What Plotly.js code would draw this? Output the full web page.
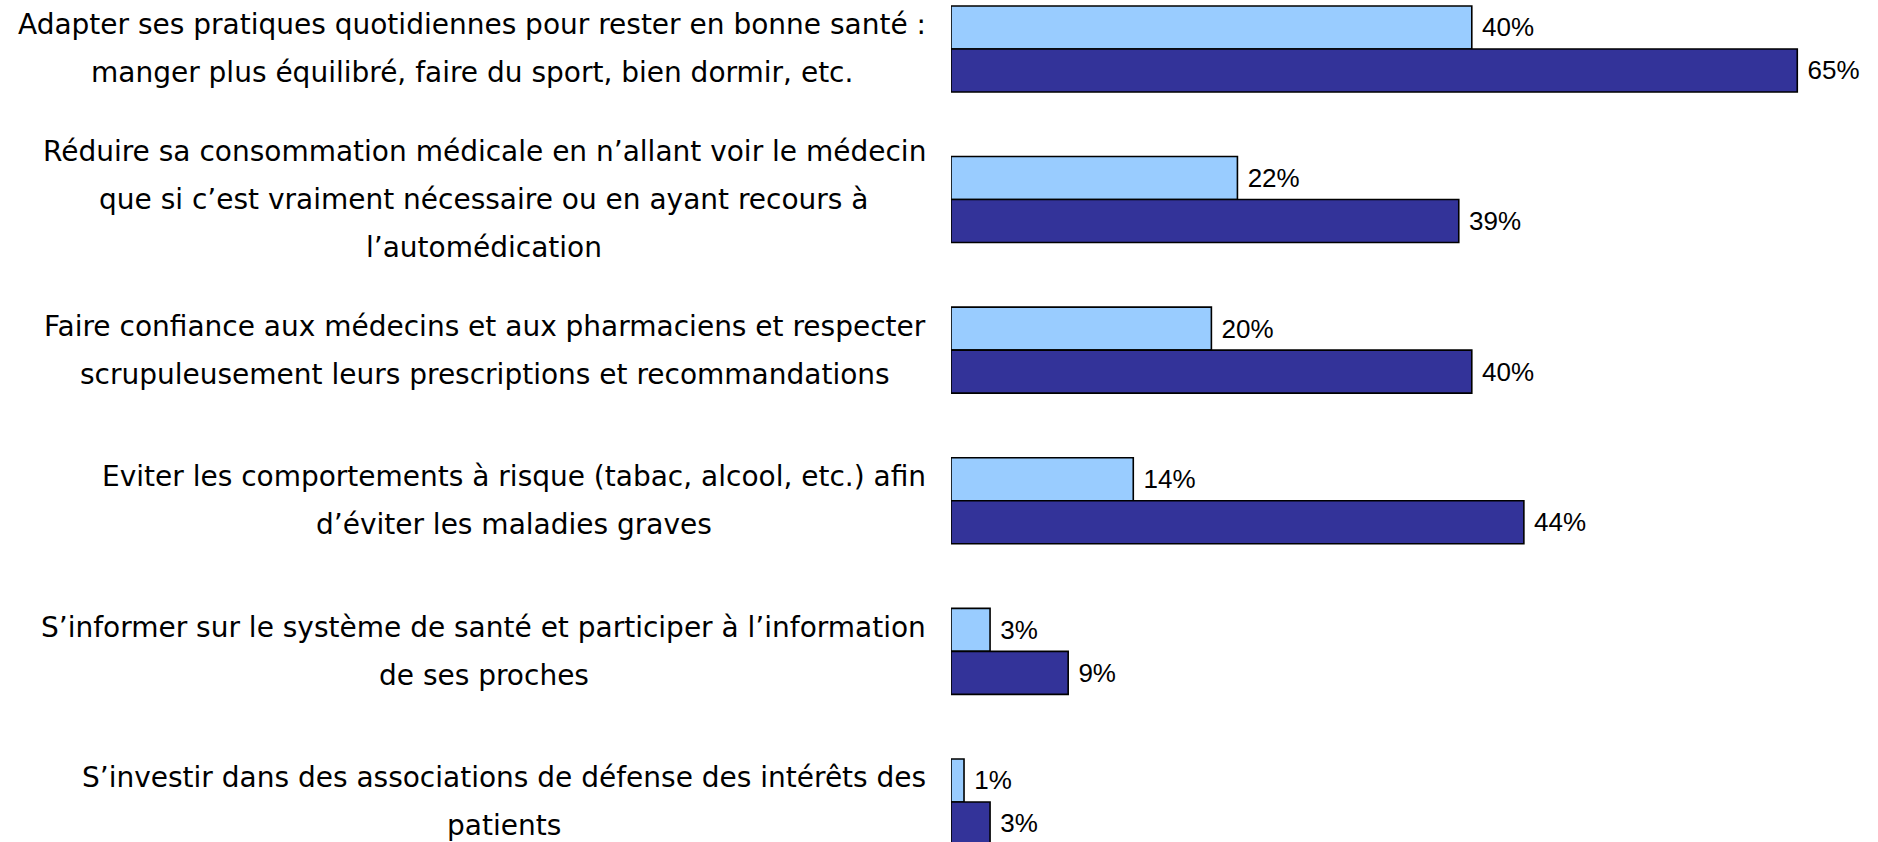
<!DOCTYPE html>
<html>
<head>
<meta charset="utf-8">
<script src="https://cdn.plot.ly/plotly-3.0.1.min.js"></script>
<style>
html, body { margin: 0; padding: 0; background: #ffffff; }
#chart { width: 1878px; height: 842px; }
</style>
</head>
<body>
<div id="chart"></div>
<script>
// ---- Data ----
const labelLines = [
  ["Adapter ses pratiques quotidiennes pour rester en bonne santé :", "manger plus équilibré, faire du sport, bien dormir, etc."],
  ["Réduire sa consommation médicale en n’allant voir le médecin", "que si c’est vraiment nécessaire ou en ayant recours à", "l’automédication"],
  ["Faire confiance aux médecins et aux pharmaciens et respecter", "scrupuleusement leurs prescriptions et recommandations"],
  ["Eviter les comportements à risque (tabac, alcool, etc.) afin", "d’éviter les maladies graves"],
  ["S’informer sur le système de santé et participer à l’information", "de ses proches"],
  ["S’investir dans des associations de défense des intérêts des", "patients"]
];
const categories = labelLines.map(l => l.join(" "));
const seriesA = [40, 22, 20, 14, 3, 1];   // light blue
const seriesB = [65, 39, 40, 44, 9, 3];   // dark blue

// ---- Styles ----
const labelFontFamily = "DejaVu Sans";
const labelFontSize = 28;
const valueFontFamily = "Liberation Sans";
const valueFontSize = 26;
const lineSpacing = 48;
const labelGap = 25;

const canvas = document.createElement("canvas");
const ctx = canvas.getContext("2d");
ctx.font = labelFontSize + "px '" + labelFontFamily + "'";

function barTrace(vals, color) {
  return {
    type: "bar",
    orientation: "h",
    y: categories,
    x: vals,
    marker: { color: color, line: { color: "#000000", width: 1.6 } },
    text: vals.map(v => "\u00a0" + v + "%"),
    textposition: "outside",
    constraintext: "none",
    cliponaxis: false,
    textfont: { family: valueFontFamily, size: valueFontSize, color: "#000000" },
    hoverinfo: "skip",
    showlegend: false
  };
}

const annotations = [];
labelLines.forEach((lines, i) => {
  const maxW = Math.max(...lines.map(t => ctx.measureText(t).width));
  const n = lines.length;
  lines.forEach((t, j) => {
    annotations.push({
      xref: "x", yref: "y",
      x: 0, y: categories[i],
      text: t,
      showarrow: false,
      xanchor: "center", yanchor: "middle",
      xshift: -(labelGap + maxW / 2),
      yshift: ((n - 1) / 2 - j) * lineSpacing,
      font: { family: labelFontFamily, size: labelFontSize, color: "#000000" }
    });
  });
});

const layout = {
  width: 1878, height: 842,
  margin: { l: 951, r: 0, t: 0, b: 0, pad: 0 },
  paper_bgcolor: "#ffffff", plot_bgcolor: "#ffffff",
  barmode: "group",
  bargap: 0.429,
  bargroupgap: 0,
  xaxis: { range: [0, 71.2], visible: false, fixedrange: true },
  yaxis: {
    type: "category",
    categoryorder: "array",
    categoryarray: categories,
    range: [5.266, -0.325],
    showticklabels: false, showgrid: false, zeroline: false, showline: false,
    ticks: "", fixedrange: true
  },
  annotations: annotations,
  showlegend: false
};

Plotly.newPlot("chart", [barTrace(seriesA, "#99CCFF"), barTrace(seriesB, "#333399")], layout, { displayModeBar: false, staticPlot: true });
</script>
</body>
</html>
